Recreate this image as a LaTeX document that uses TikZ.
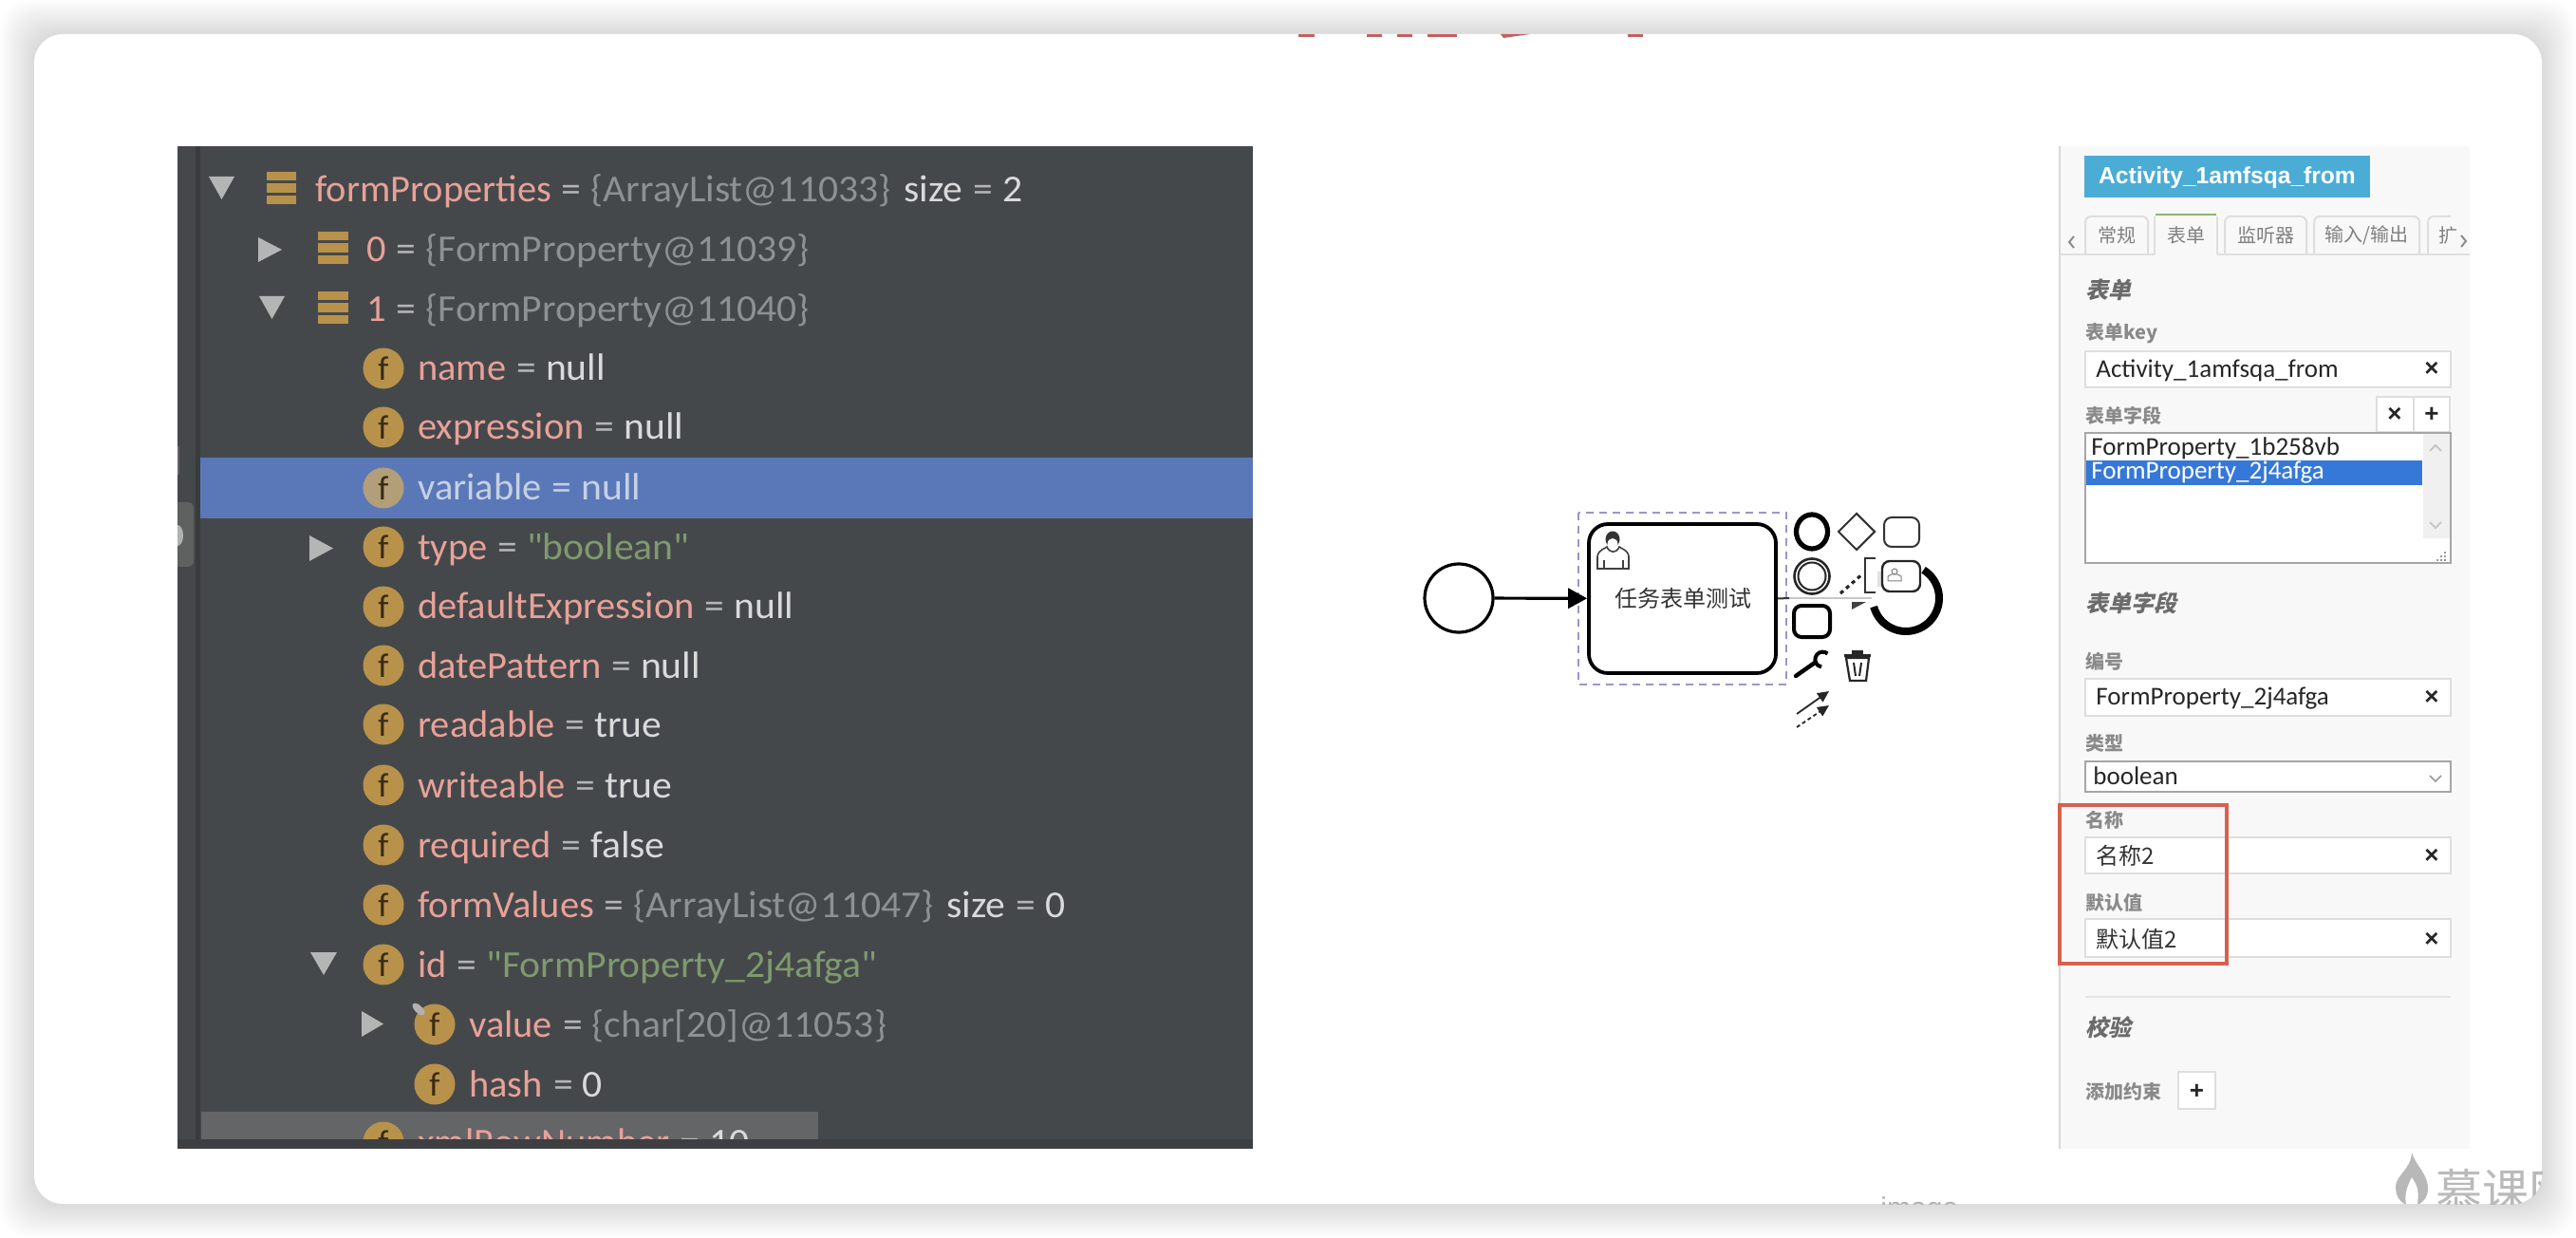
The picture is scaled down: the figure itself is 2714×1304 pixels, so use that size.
\documentclass[tikz,border=0pt]{standalone}
\usepackage{fontspec}
\usetikzlibrary{shapes.geometric,arrows.meta}
\setmainfont{Carlito}
\newfontfamily\dbg[FakeStretch=1.04]{Carlito}
\newfontfamily\dbgk[FakeStretch=1.01]{Carlito}
\newfontfamily\cjk{Noto Sans CJK SC}
\newfontfamily\cjkit[FakeSlant=0.22]{Noto Sans CJK SC}
\newfontfamily\arialf{Liberation Sans}
\definecolor{pkey}{HTML}{E8A198}
\definecolor{peq}{HTML}{B4B6B6}
\definecolor{pval}{HTML}{D9DADA}
\definecolor{pobj}{HTML}{8D9094}
\definecolor{pstr}{HTML}{7F9A6E}
\definecolor{pan}{HTML}{45484B}
\definecolor{gold}{HTML}{B8924A}
\definecolor{labelc}{HTML}{8A8A8A}
\definecolor{bordc}{HTML}{DEDEDE}
\definecolor{selrow}{HTML}{5A78B8}
\definecolor{selicon}{HTML}{B29E78}
\definecolor{seltext}{HTML}{C5D0E4}
\definecolor{statusb}{HTML}{636567}
\definecolor{dashc}{HTML}{9A95D0}
\definecolor{panelbg}{HTML}{F8F8F8}
\definecolor{badgec}{HTML}{4BACD6}
\definecolor{tabgreen}{HTML}{8DB36A}
\definecolor{scrollc}{HTML}{F0F0F0}
\definecolor{listsel}{HTML}{3578D8}
\definecolor{redbox}{HTML}{D8604F}
\definecolor{redt}{HTML}{C55F5F}
\newcommand\eqsign{\hspace{5.5pt}\textcolor{peq}{=}\hspace{5pt}}
\newcommand\kv[2]{{\dbgk\fontsize{20}{22}\selectfont\textcolor{pkey}{#1}}\eqsign#2}
\tikzset{
  dtext/.style={anchor=base west,inner sep=0,font=\dbg\fontsize{20}{22}\selectfont,text=pval},
  ficon/.style={circle,fill=gold,inner sep=0,minimum size=21.5pt,text=black!70!gold,font=\dbgk\fontsize{18}{18}\selectfont},
  tri/.style={fill=peq,draw=none},
  bar/.style={fill=gold,draw=none},
  inbox/.style={fill=white,draw=bordc,line width=1pt},
  lab/.style={anchor=west,inner sep=0,text=labelc,font=\cjk\bfseries\fontsize{10}{12}\selectfont},
  head/.style={anchor=west,inner sep=0,text=black!58,font=\cjkit\bfseries\fontsize{12}{14}\selectfont},
  intext/.style={anchor=west,inner sep=0,text=black!85,font=\fontsize{13.5}{15}\selectfont},
  incjk/.style={anchor=west,inner sep=0,text=black!80,font=\cjk\fontsize{12}{15}\selectfont},
  xmark/.style={inner sep=0,text=black!85,font=\arialf\bfseries\fontsize{13}{13}\selectfont},
  tabline/.style={draw=bordc,line width=1pt,rounded corners=3pt},
  tabtext/.style={inner sep=0,text=black!50,font=\cjk\fontsize{10}{12}\selectfont},
  chev/.style={draw=black!45,line width=1pt,fill=none},
  bpm/.style={draw=black,fill=none,line width=1.6pt},
  pad/.style={draw=black!80,fill=none,line width=1pt},
}
\begin{document}
\begin{tikzpicture}[x=0.5pt,y=-0.5pt]
\useasboundingbox (0,0) rectangle (2714,1304);
\fill[white] (0,0) rectangle (2714,1304);
% shadow
\foreach \i in {36,35,...,1}{
  \fill[black,opacity=0.0046,rounded corners=15pt] (36-\i,36-\i) rectangle (2678+\i,1268+\i);
}
% card
\fill[white,rounded corners=15pt] (36,36) rectangle (2678,1268);
\begin{scope}
\clip[rounded corners=15pt] (36,36) rectangle (2678,1268);
\foreach \a/\b in {1368/1385,1440/1456,1472/1488,1504/1535,1715/1731}{
  \fill[redt] (\a,36) rectangle (\b,39.5);
}
\fill[redt] (1581,36) -- (1612,36) -- (1584,40) -- cycle;
\node[anchor=base west,inner sep=0,text=black!30,font=\arialf\fontsize{15}{15}\selectfont] (imgt) at (1981,1282) {image};
% watermark
\fill[black!28] (2541,1214) .. controls (2545,1228) and (2558,1236) .. (2558,1252) .. controls (2558,1262) and (2552,1268) .. (2541,1272) .. controls (2530,1268) and (2524,1262) .. (2524,1250) .. controls (2524,1238) and (2540,1232) .. (2541,1214) -- cycle;
\fill[white] (2541,1240) .. controls (2546,1248) and (2550,1254) .. (2546,1272) -- (2536,1272) .. controls (2532,1260) and (2536,1250) .. (2541,1240) -- cycle;
\node[anchor=west,inner sep=0,text=black!27,font=\cjk\fontsize{24.5}{26}\selectfont] (wm) at (2566,1254) {慕课网};
\end{scope}
% debugger panel
\fill[pan] (187,154) rectangle (1320,1210);
\fill[black!18!pan] (206,154) rectangle (211,1200);
\fill[black!25!white,opacity=.25] (187,470) rectangle (189,500);
\begin{scope}
\clip (187,500) rectangle (210,620);
\fill[black!60!white,rounded corners=3pt,opacity=.8] (170,529) rectangle (204,597);
\fill[black!30] (187,553) arc[start angle=-90,end angle=90,x radius=6,y radius=11] -- cycle;
\end{scope}
\fill[selrow] (211,482) rectangle (1320,546);
\fill[statusb] (212,1171) rectangle (862,1200);
\begin{scope}
\clip (187,154) rectangle (1320,1200);
% rows
\fill[tri] (220,186) -- (247,186) -- (233.5,210) -- cycle;
\foreach \yy in {0,1,2}{\fill[bar] (281,181+\yy*12.4) rectangle (312,190.5+\yy*12.4);}
\node[dtext] (r0) at (332,213) {\kv{formProperties}{\textcolor{pobj}{\{ArrayList@11033\}}\hspace{7pt}\textcolor{pval}{size}\eqsign 2}};
\fill[tri] (272,250) -- (272,276) -- (297,263) -- cycle;
\foreach \yy in {0,1,2}{\fill[bar] (335,244+\yy*12.4) rectangle (367,253.5+\yy*12.4);}
\node[dtext] (r1) at (386,276) {\kv{0}{\textcolor{pobj}{\{FormProperty@11039\}}}};
\fill[tri] (273,312) -- (300,312) -- (286.5,336) -- cycle;
\foreach \yy in {0,1,2}{\fill[bar] (335,307+\yy*12.4) rectangle (367,316.5+\yy*12.4);}
\node[dtext] (r2) at (386,339) {\kv{1}{\textcolor{pobj}{\{FormProperty@11040\}}}};
\foreach \n/\yc/\t in {
 a/388/{\kv{name}{null}},
 b/450/{\kv{expression}{null}},
 d/576/{\kv{type}{\textcolor{pstr}{"boolean"}}},
 e/639/{\kv{defaultExpression}{null}},
 f/701/{\kv{datePattern}{null}},
 g/763/{\kv{readable}{true}},
 h/827/{\kv{writeable}{true}},
 i/890/{\kv{required}{false}},
 j/953/{\kv{formValues}{\textcolor{pobj}{\{ArrayList@11047\}}\hspace{7pt}\textcolor{pval}{size}\eqsign 0}},
 k/1016/{\kv{id}{\textcolor{pstr}{"FormProperty\_2j4afga"}}},
 z/1203/{\kv{xmlRowNumber}{10}}}{
  \node[ficon] (fi\n) at (404,\yc) {f};
  \node[dtext] (ft\n) at (440,\yc+13) {\t};
}
\node[ficon,fill=selicon] (fic) at (404,514) {f};
\node[dtext,text=seltext] (ftc) at (440,527) {{\dbgk variable}\hspace{5.5pt}=\hspace{5pt}null};
\fill[tri] (326,564) -- (326,591) -- (351,577.5) -- cycle;
\fill[tri] (327,1003) -- (355,1003) -- (341,1027) -- cycle;
\fill[tri] (381,1065) -- (381,1092) -- (404,1078.5) -- cycle;
\node[ficon] (fil) at (458,1079) {f};
\node[dtext] (ftl) at (494,1092) {\kv{value}{\textcolor{pobj}{\{char[20]@11053\}}}};
\fill[black!30,rotate around={45:(441,1063)}] (441,1063) ellipse (4 and 8);
\node[ficon] (fim) at (458,1142) {f};
\node[dtext] (ftm) at (494,1155) {\kv{hash}{0}};
\end{scope}
\fill[black!12!pan] (187,1200) rectangle (1320,1210);
% BPMN
\node[circle,bpm,minimum size=36pt,inner sep=0] (start) at (1537,630) {};
\node[rectangle,rounded corners=10pt,bpm,line width=1.9pt,minimum width=98.5pt,minimum height=78.5pt,inner sep=0] (task) at (1772.5,630.5) {};
\draw[draw=dashc,line width=1.2pt,dash pattern=on 4pt off 3pt] (1663,540) rectangle (1882,721);
\draw[line width=1.6pt,-{Triangle[length=10pt,width=10.5pt]}] (start) -- (task);
\node[inner sep=0,text=black!80,font=\cjk\fontsize{12}{14}\selectfont] (tasktxt) at (1773,630) {任务表单测试};
% user icon
\draw[line width=.8pt,draw=black!75] (1683,599) -- (1683,586) .. controls (1684,579) and (1691,578) .. (1693,576) .. controls (1696,583) and (1703,583) .. (1706,576) .. controls (1708,578) and (1715,579) .. (1716,586) -- (1716,599) -- cycle;
\draw[line width=.8pt,draw=black!75] (1690,590) -- (1690,599) (1710,590) -- (1710,599);
\fill[black!80] (1699,568) ellipse (7.5 and 8.5);
\fill[white] (1699,573) ellipse (5.5 and 6);
% end event
\coordinate (eend) at (2008,630);
\draw[black,line width=4pt] (eend) ++(-58:35) arc[start angle=-58,end angle=165,radius=35];
% outgoing flow
\coordinate (flowend) at (1972,630);
\draw[black!80,line width=1pt] (task.east) -- (1885,630);
\draw[black!22,line width=1.2pt] (1885,630) -- (flowend);
\fill[black!75] (1951,634) -- (1966,634) -- (1951,642) -- cycle;
% context pad
\draw[black,line width=2.6pt] (1909,560) ellipse (16.5 and 18);
\node[diamond,pad,minimum size=19.5pt,inner sep=0] (pdia) at (1956,560) {};
\draw[pad,rounded corners=4pt] (1985,545) rectangle (2022,576);
\draw[black!85,line width=1.3pt] (1909,607) circle (18.5);
\draw[black!85,line width=1pt] (1909,607) circle (14.5);
\draw[black!85,line width=1.6pt,dash pattern=on 2pt off 2pt] (1939,625) -- (1963,604);
\draw[black!80,line width=1pt] (1976,588) -- (1965,588) -- (1965,624) -- (1976,624);
\fill[black!12] (1978,602) rectangle (1984,618);
\draw[black!85,line width=1.2pt,fill=white,rounded corners=4pt] (1983,591) rectangle (2023,623);
\draw[black!50,line width=.5pt] (1989,612) -- (1989,607) -- (1993,605) -- (1999,605) -- (2003,607) -- (2003,612) -- cycle;
\draw[black!50,line width=.5pt] (1996,602) circle (3);
\draw[black,line width=2pt,rounded corners=4pt] (1890,638) rectangle (1928,671);
% wrench
\draw[black,line width=2.2pt,line cap=round] (1892,712) -- (1912,698);
\draw[black,line width=2pt] (1925.5,688.5) arc[start angle=-50,end angle=-260,radius=8];
% trash
\draw[black!85,line width=1.1pt,fill=none] (1945,693) -- (1969,693) -- (1966,717) -- (1949,717) -- cycle;
\fill[black!85] (1943,688.5) rectangle (1971,692);
\fill[black!85] (1951,684.5) rectangle (1963,688.5);
\draw[black!85,line width=1pt] (1953,698) -- (1955,712) (1961,698) -- (1959,712);
% tool arrows
\draw[black!85,line width=.9pt,-{Triangle[length=6pt,width=5.5pt]}] (1893,752) -- (1927,728);
\draw[black!85,line width=.9pt,dash pattern=on 2pt off 1.5pt,-{Triangle[length=6pt,width=5.5pt]}] (1893,766) -- (1927,743);
% right panel
\fill[panelbg] (2170,154) rectangle (2602,1210);
\draw[black!15,line width=1pt] (2170,154) -- (2170,1210);
\node[fill=badgec,minimum width=150.5pt,minimum height=22pt,inner sep=0,text height=9pt,text depth=1pt,text=white,font=\arialf\bfseries\fontsize{12.3}{14}\selectfont] (badge) at (2346.5,186) {Activity\_1amfsqa\_from};
% tabs
\draw[bordc,line width=1pt] (2170,268) -- (2602,268);
\foreach \n/\a/\b/\t in {t1/2197/2263/{常规},t3/2344/2430/{监听器},t4/2438/2549/{输入/输出}}{
 \draw[tabline] (\a,268) -- (\a,228) -- (\b,228) -- (\b,268);
 \node[tabtext] (\n) at ({(\a+\b)/2},248) {\t};
}
\draw[tabline] (2558,268) -- (2558,228) -- (2582,228);
\node[tabtext,anchor=west] (t5) at (2569,248) {扩};
\fill[panelbg] (2270,228) rectangle (2336,270);
\draw[bordc,line width=1pt] (2270,268) -- (2270,228) (2336,228) -- (2336,268);
\draw[tabgreen,line width=1pt] (2271,226.5) -- (2335,226.5);
\node[tabtext] (t2) at (2303,248) {表单};
\draw[chev] (2185,249) -- (2180,255) -- (2185,261) ;
\draw[chev] (2593,248) -- (2598,254) -- (2593,260);
% form
\node[head] (h1) at (2197,305) {表单};
\node[lab] (l1) at (2197,351) {表单key};
\draw[inbox] (2197,370) rectangle (2582,408);
\node[intext] (v1) at (2208,390) {Activity\_1amfsqa\_from};
\node[xmark] (x1) at (2562,389) {×};
\node[lab] (l2) at (2197,438) {表单字段};
\draw[inbox] (2504,418) rectangle (2543,455);
\draw[inbox] (2543,418) rectangle (2581,455);
\node[xmark] (x2) at (2523,437) {×};
\node[xmark] (p2) at (2562,437) {+};
\draw[fill=white,draw=black!35,line width=1.1pt] (2197,456) rectangle (2582,593);
\fill[scrollc] (2553,457) rectangle (2581,567);
\fill[listsel] (2198,485) rectangle (2552,511);
\node[intext] (li1) at (2203,472) {FormProperty\_1b258vb};
\node[intext,text=white] (li2) at (2203,498) {FormProperty\_2j4afga};
\draw[black!22,line width=1pt] (2560,475) -- (2566,469) -- (2572,475);
\draw[black!22,line width=1pt] (2560,550) -- (2566,556) -- (2572,550);
\foreach \px/\py in {2575/581,2575/585,2575/589,2571/585,2571/589,2567/589}{\fill[black!40] (\px,\py) rectangle (\px+2,\py+2);}
\node[head] (h2) at (2197,635) {表单字段};
\node[lab] (l3) at (2197,697) {编号};
\draw[inbox] (2197,715) rectangle (2582,754);
\node[intext] (v3) at (2208,736) {FormProperty\_2j4afga};
\node[xmark] (x3) at (2562,735) {×};
\node[lab] (l4) at (2197,783) {类型};
\draw[fill=white,draw=black!35,line width=1.1pt] (2197,802) rectangle (2582,834);
\node[intext] (v4) at (2205,817) {boolean};
\draw[black!40,line width=.8pt] (2560,817) -- (2566,823) -- (2572,817);
\node[lab] (l5) at (2197,864) {名称};
\draw[inbox] (2197,882) rectangle (2582,920);
\node[incjk] (v5) at (2208,901) {名称2};
\node[xmark] (x5) at (2562,902) {×};
\node[lab] (l6) at (2197,951) {默认值};
\draw[inbox] (2197,968) rectangle (2582,1008);
\node[incjk] (v6) at (2208,989) {默认值2};
\node[xmark] (x6) at (2562,990) {×};
\draw[redbox,line width=1.8pt] (2170,848) rectangle (2346,1015);
\draw[black!10,line width=.8pt] (2197,1050) -- (2582,1050);
\node[head] (h3) at (2197,1082) {校验};
\node[lab] (l7) at (2197,1150) {添加约束};
\draw[inbox] (2295,1129) rectangle (2334,1168);
\node[xmark] (p7) at (2314.5,1150) {+};
\end{tikzpicture}
\end{document}
